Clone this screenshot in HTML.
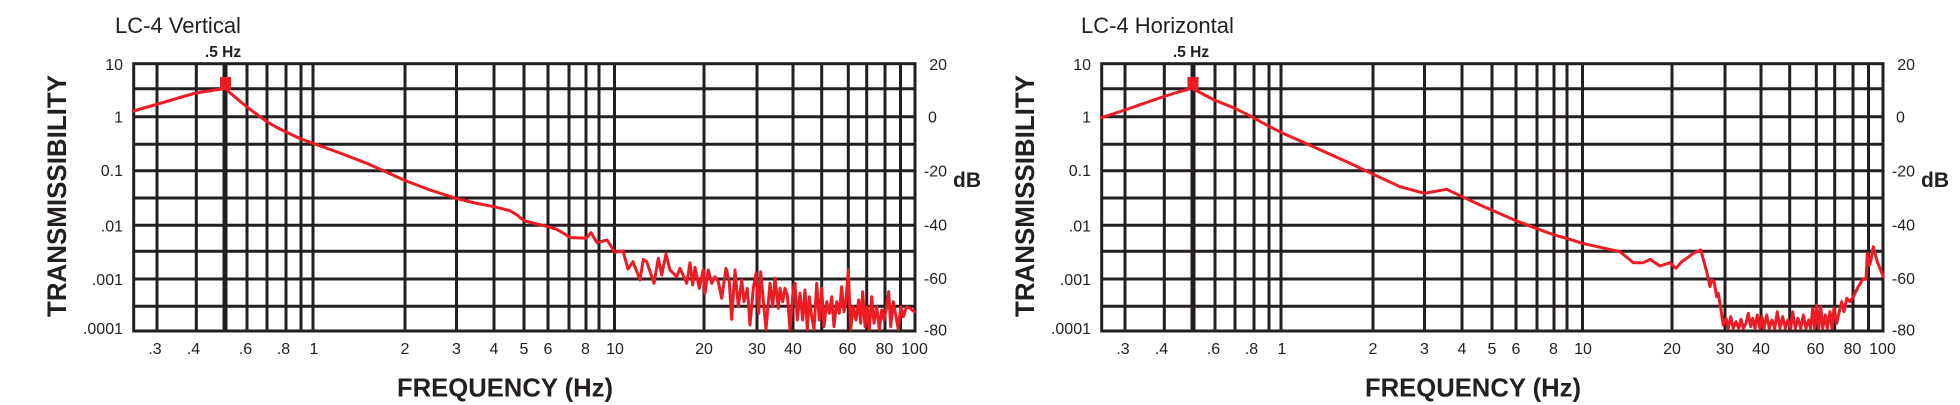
<!DOCTYPE html>
<html>
<head>
<meta charset="utf-8">
<style>
html,body{margin:0;padding:0;background:#fff;}
body{width:1960px;height:405px;overflow:hidden;}
svg{display:block;}
text{font-family:"Liberation Sans",Arial,sans-serif;fill:#231f20;}
.t{font-size:16px;}
.b{font-weight:bold;}
</style>
</head>
<body>
<svg width="1960" height="405" viewBox="0 0 1960 405" xmlns="http://www.w3.org/2000/svg">
<defs>
<g id="grid">
  <g stroke="#231f20" stroke-width="3" fill="none">
    <line x1="133.7" y1="88.8" x2="915" y2="88.8"/>
    <line x1="133.7" y1="116.7" x2="915" y2="116.7"/>
    <line x1="133.7" y1="144.3" x2="915" y2="144.3"/>
    <line x1="133.7" y1="170.7" x2="915" y2="170.7"/>
    <line x1="133.7" y1="198" x2="915" y2="198"/>
    <line x1="133.7" y1="225.3" x2="915" y2="225.3"/>
    <line x1="133.7" y1="251.3" x2="915" y2="251.3"/>
    <line x1="133.7" y1="279" x2="915" y2="279"/>
    <line x1="133.7" y1="306.3" x2="915" y2="306.3"/>
    <line x1="157" y1="63.7" x2="157" y2="331"/>
    <line x1="196.3" y1="63.7" x2="196.3" y2="331"/>
    <line x1="247" y1="63.7" x2="247" y2="331"/>
    <line x1="267" y1="63.7" x2="267" y2="331"/>
    <line x1="286" y1="63.7" x2="286" y2="331"/>
    <line x1="301" y1="63.7" x2="301" y2="331"/>
    <line x1="313" y1="63.7" x2="313" y2="331"/>
    <line x1="405" y1="63.7" x2="405" y2="331"/>
    <line x1="456.5" y1="63.7" x2="456.5" y2="331"/>
    <line x1="494" y1="63.7" x2="494" y2="331"/>
    <line x1="524" y1="63.7" x2="524" y2="331"/>
    <line x1="548" y1="63.7" x2="548" y2="331"/>
    <line x1="569" y1="63.7" x2="569" y2="331"/>
    <line x1="586" y1="63.7" x2="586" y2="331"/>
    <line x1="599" y1="63.7" x2="599" y2="331"/>
    <line x1="614.5" y1="63.7" x2="614.5" y2="331"/>
    <line x1="704" y1="63.7" x2="704" y2="331"/>
    <line x1="757" y1="63.7" x2="757" y2="331"/>
    <line x1="793" y1="63.7" x2="793" y2="331"/>
    <line x1="821.7" y1="63.7" x2="821.7" y2="331"/>
    <line x1="848.3" y1="63.7" x2="848.3" y2="331"/>
    <line x1="866.7" y1="63.7" x2="866.7" y2="331"/>
    <line x1="885" y1="63.7" x2="885" y2="331"/>
    <line x1="900.5" y1="63.7" x2="900.5" y2="331"/>
    <rect x="133.7" y="63.7" width="781.3" height="267.3"/>
    <line x1="225" y1="63.7" x2="225" y2="331" stroke-width="5"/>
  </g>
  <text class="t" x="123" y="70" text-anchor="end">10</text>
  <text class="t" x="123" y="122.5" text-anchor="end">1</text>
  <text class="t" x="123" y="176" text-anchor="end">0.1</text>
  <text class="t" x="123" y="231.5" text-anchor="end">.01</text>
  <text class="t" x="123" y="285" text-anchor="end">.001</text>
  <text class="t" x="123" y="334" text-anchor="end">.0001</text>

  <text class="t" x="947" y="70" text-anchor="end">20</text>
  <text class="t" x="928" y="122.5">0</text>
  <text class="t" x="947" y="176.5" text-anchor="end">-20</text>
  <text class="t" x="947" y="230.5" text-anchor="end">-40</text>
  <text class="t" x="947" y="284" text-anchor="end">-60</text>
  <text class="t" x="947" y="335.5" text-anchor="end">-80</text>
  <text class="b" x="953" y="187" font-size="21">dB</text>

  <g class="t" text-anchor="middle">
    <text class="t" x="155" y="354">.3</text>
    <text class="t" x="193.5" y="354">.4</text>
    <text class="t" x="245.5" y="354">.6</text>
    <text class="t" x="283.5" y="354">.8</text>
    <text class="t" x="314" y="354">1</text>
    <text class="t" x="405" y="354">2</text>
    <text class="t" x="456.5" y="354">3</text>
    <text class="t" x="494" y="354">4</text>
    <text class="t" x="524" y="354">5</text>
    <text class="t" x="548" y="354">6</text>
    <text class="t" x="585.5" y="354">8</text>
    <text class="t" x="615" y="354">10</text>
    <text class="t" x="704" y="354">20</text>
    <text class="t" x="757" y="354">30</text>
    <text class="t" x="793" y="354">40</text>
    <text class="t" x="847.5" y="354">60</text>
    <text class="t" x="884.5" y="354">80</text>
    <text class="t" x="914.5" y="354">100</text>
  </g>

  <text class="b" x="223" y="57" font-size="15.5" text-anchor="middle">.5 Hz</text>
  <text class="b" font-size="27" text-anchor="middle" textLength="242" lengthAdjust="spacingAndGlyphs" transform="translate(66,196) rotate(-90)">TRANSMISSIBILITY</text>
  <text class="b" x="397" y="396.5" font-size="26" textLength="216" lengthAdjust="spacingAndGlyphs">FREQUENCY (Hz)</text>
</g>
</defs>

<!-- Left chart -->
<use href="#grid"/>
<text x="115" y="33" font-size="22">LC-4 Vertical</text>
<polyline fill="none" stroke="#ed1c24" stroke-width="3" stroke-linejoin="round" stroke-linecap="round" points="
133.3,111 158,104 180,97.5 196,93 212,90.5 225,88.5 235,97 247,107 257,114.5 267,121.7 276,127 286,132 301,139 313,143.3 340,153 366.7,163.3 385,171.5 405,180.5 430,190 456,198.3 475,203 494,206.7 510,210.7 517,215 524,220.7 535,223.5 548,226.7 556,229 563,233 570,237.5 586,238.3 591,232.7 597,242.7 607,240 615,252.3 623,251 628,269 633,261.7 640,280
643.3,259.3 646.7,261.7 654,283.3 658.3,258.3 661.7,275 666,254 670,270 676.7,276.7 680,268.3 686.7,283.3 690,262.7 692.7,285 695,267.3 699.3,288.3 703.3,269.3 705,293.3 708.3,270 711.7,283.3 715,276.7 718.3,281.7 721.7,298.3 726,268.3 729.3,281.7 731.7,319.3 735,270 738.3,306.7 741.7,280 744,301.7 747.3,288.3 750,325 753.3,288.3 756,273.3 758.7,313.3 760.7,271.7 766,329.5 770,283.3 772.7,306.7 775,278.3 778.3,308.3
780,288.3 782.7,301.7 785,288.3 787.3,295 790,329.5 793.3,288.3 795,283.3 797.3,320 800,293.3 802.7,320 805,290 807.3,329.5 809.3,296.7 811.7,316.7 814,329.5 816.7,283.3 819.3,320 821.7,288.3 824,326.7 826.7,301.7 829.3,313.3 831.7,296.7 834,326.7 836.7,301.7 839.3,313.3 841.7,286.7 844,311.7 846,300 848.3,270 850.7,329.5 853.3,306.7 856,320 858.7,300 860.7,323.3 862.7,291.7 865,326.7 867.3,306.7 869.3,329.5 871.7,296.7 874,323.3 876.7,306.7 879.3,329.5 881.7,310 884,320 886.7,306.7 888.7,291.7 890.7,326.7 893.3,301.7 896,316.7 898.3,329.5 900.7,306.7 903.3,316.7 906.7,306.7 910,308.3 914.3,311.7"/>
<rect x="220" y="77" width="11" height="13" fill="#ed1c24"/>

<!-- Right chart -->
<use href="#grid" transform="translate(968,0)"/>
<text x="1081" y="33" font-size="22">LC-4 Horizontal</text>
<polyline fill="none" stroke="#ed1c24" stroke-width="3" stroke-linejoin="round" stroke-linecap="round" points="
1101.5,117.7 1125,110 1145,103 1163.3,96.7 1180,91.5 1192,88.3 1214.3,100 1235,108.3 1252.7,117.3 1268.3,126 1281.7,132.7 1313.3,146.7 1346.7,161.7 1372.7,174 1400,186.7 1424.3,193.3 1446.7,189.3 1462.3,196.7 1480,205 1491.7,210 1516,220.7 1536,228.3 1554.3,235 1566.7,238.3 1582.3,243.3 1620,251.7 1633.3,262.7 1643.3,262.7 1650,259.3 1660,266 1670,262.7 1676,268.3 1681.7,261.7 1686.7,258.3 1693.3,253.3 1700.7,250
1706.7,271.7 1710,286.7 1711.7,280 1714,281.7 1716.7,296.7 1718.3,293.3 1720.7,308.3 1723.3,325 1726,318.3 1728.3,328.3 1730.7,316.7 1733.3,328.3 1736,321.7 1738.7,328.3 1741,319.3 1743.3,328.3 1746,323.3 1748.3,313.3 1750.7,326.7 1752.7,318.3 1755,328.3 1757.3,315 1760,328.3 1762,316.7 1764,328.3 1766.7,315 1769.3,328.3 1772,320 1774.7,328.3 1777.3,311.7 1780,328.3 1782.7,316.7 1785.3,328.3 1788,320 1790.7,328.3 1792.7,311.7 1795.3,328.3 1798,318.3 1800.7,328.3 1803.3,315 1806,328.3 1808.7,320 1810.7,328.3 1812.7,308.3 1814.7,328.3 1816.7,305 1818.7,328.3 1820.7,306.7 1822.7,328.3 1825.3,315 1827.3,328.3 1830,311.7 1832,328.3 1834,308.3 1836.7,323.3 1839.3,311.7 1841.7,301.7 1844,311.7 1846.7,298.3 1850,301.7 1853.3,296.7 1858.3,286.7 1862.7,279.3 1866,279.3 1867.3,253.3 1869.3,265 1870.7,261.7 1873.3,246.7 1877.3,261.7 1883.3,276.7"/>
<rect x="1187.5" y="77" width="11" height="13" fill="#ed1c24"/>
</svg>
</body>
</html>
